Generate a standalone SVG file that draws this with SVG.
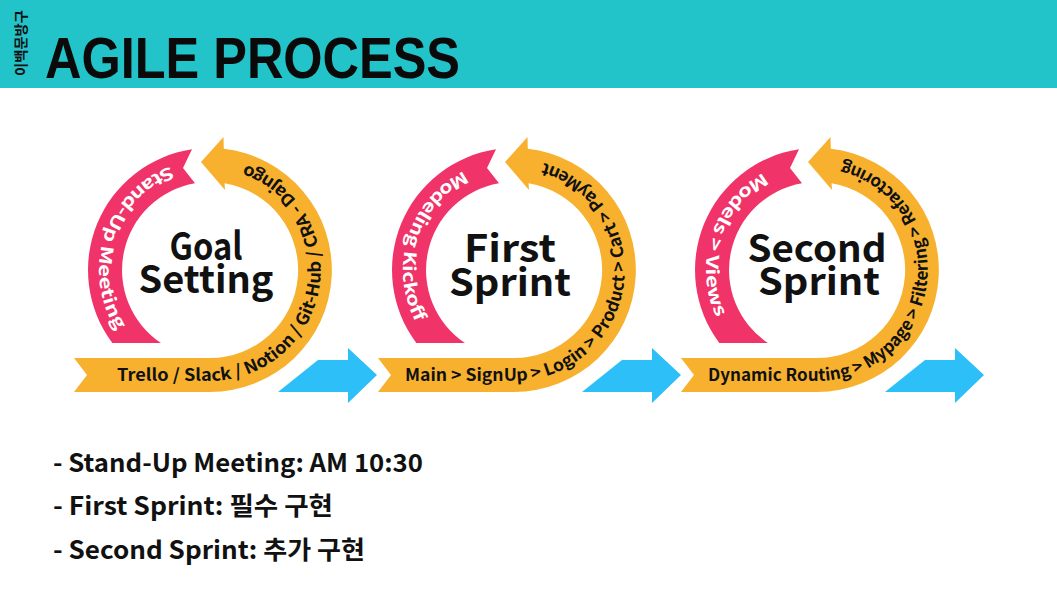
<svg xmlns="http://www.w3.org/2000/svg" xmlns:xlink="http://www.w3.org/1999/xlink" width="1057" height="596" viewBox="0 0 1057 596">
<style>
.pink{fill:#F03368}
.orange{fill:#F7B12F}
.blue{fill:#2DBFF7}
.ring{font-family:"Noto Sans CJK KR","Liberation Sans",sans-serif;font-weight:700;font-size:17px}
.dark{fill:#111}
.light{fill:#fff}
.center{font-family:"Noto Sans CJK KR","Liberation Sans",sans-serif;font-weight:700;font-size:38px;fill:#111;text-anchor:middle}
.note{font-family:"Noto Sans CJK KR","Liberation Sans",sans-serif;font-weight:700;font-size:25px;fill:#111}
</style>
<defs>
<path id="orangeShape" d="M74,358 L210,358 A88 88 0 0 0 224.6,183.2 L225,190 L201,162 L223.5,137 L223.8,148.8 A122 122 0 0 1 210,392 L74,392 L87,375 Z"/>
<path id="pinkShape" d="M192,149.3 A122 122 0 0 0 112.3,343 L160.9,343 A88 88 0 0 1 195,183.3 L183,168 Z"/>
<path id="orangeText" d="M80,381 L210,381 A111 111 0 1 0 200.3,159.4" fill="none"/>
<path id="pinkText" d="M186.9,161.4 A111 111 0 0 0 138.6,355" fill="none"/>
<polygon id="blueArrow" points="278,392 318,360 348,360 348,348 377,375 348,403 348,392"/>
</defs>
<g id="header">
<rect x="0" y="0" width="1057" height="88" fill="#22C4C9"/>
<text x="20" y="43" transform="rotate(-90 20 43)" text-anchor="middle" dominant-baseline="central" font-family="Noto Sans CJK KR, sans-serif" font-weight="700" font-size="14" fill="#111" textLength="66" lengthAdjust="spacingAndGlyphs">이백문방구</text>
<text x="45" y="78" font-family="Liberation Sans, Arial, sans-serif" font-weight="700" font-size="57" fill="#0a0a0a" textLength="415" lengthAdjust="spacingAndGlyphs">AGILE PROCESS</text>
</g>
<g id="cycle-goal-setting">
<use href="#orangeShape" class="orange"/>
<use href="#pinkShape" class="pink"/>
<text class="ring dark"><textPath href="#orangeText" startOffset="37" textLength="405" lengthAdjust="spacingAndGlyphs">Trello / Slack / Notion / Git-Hub / CRA - Dajngo</textPath></text>
<text class="ring light"><textPath href="#pinkText" startOffset="17" textLength="198" lengthAdjust="spacingAndGlyphs">Stand-Up Meeting</textPath></text>
<text class="center"><tspan x="206" y="260" textLength="73" lengthAdjust="spacingAndGlyphs">Goal</tspan><tspan x="206" y="293" textLength="135" lengthAdjust="spacingAndGlyphs">Setting</tspan></text>
</g>
<g id="cycle-first-sprint" transform="translate(304 0)">
<use href="#orangeShape" class="orange"/>
<use href="#pinkShape" class="pink"/>
<text class="ring dark"><textPath href="#orangeText" startOffset="21" textLength="427" lengthAdjust="spacingAndGlyphs">Main &gt; SignUp &gt; Login &gt; Product &gt; Cart &gt; PayMent</textPath></text>
<text class="ring light"><textPath href="#pinkText" startOffset="29" textLength="176" lengthAdjust="spacingAndGlyphs">Modeling Kickoff</textPath></text>
<text class="center"><tspan x="206" y="262" textLength="92" lengthAdjust="spacingAndGlyphs">First</tspan><tspan x="206" y="296" textLength="122" lengthAdjust="spacingAndGlyphs">Sprint</tspan></text>
</g>
<g id="cycle-second-sprint" transform="translate(607 0)">
<use href="#orangeShape" class="orange"/>
<use href="#pinkShape" class="pink"/>
<text class="ring dark"><textPath href="#orangeText" startOffset="21" textLength="431" lengthAdjust="spacingAndGlyphs">Dynamic Routing &gt; Mypage &gt; Filtering &gt; Refactoring</textPath></text>
<text class="ring light"><textPath href="#pinkText" startOffset="33" textLength="167" lengthAdjust="spacingAndGlyphs">Models &gt; Views</textPath></text>
<text class="center"><tspan x="210" y="262" textLength="139" lengthAdjust="spacingAndGlyphs">Second</tspan><tspan x="212" y="295" textLength="122" lengthAdjust="spacingAndGlyphs">Sprint</tspan></text>
</g>
<g id="connectors">
<use href="#blueArrow" class="blue"/>
<use href="#blueArrow" class="blue" transform="translate(304 0)"/>
<use href="#blueArrow" class="blue" transform="translate(607 0)"/>
</g>
<g id="notes">
<text class="note" x="53" y="472" textLength="370" lengthAdjust="spacingAndGlyphs">- Stand-Up Meeting: AM 10:30</text>
<text class="note" x="53" y="515" textLength="280" lengthAdjust="spacingAndGlyphs">- First Sprint: 필수 구현</text>
<text class="note" x="53" y="559" textLength="312" lengthAdjust="spacingAndGlyphs">- Second Sprint: 추가 구현</text>
</g>
</svg>
